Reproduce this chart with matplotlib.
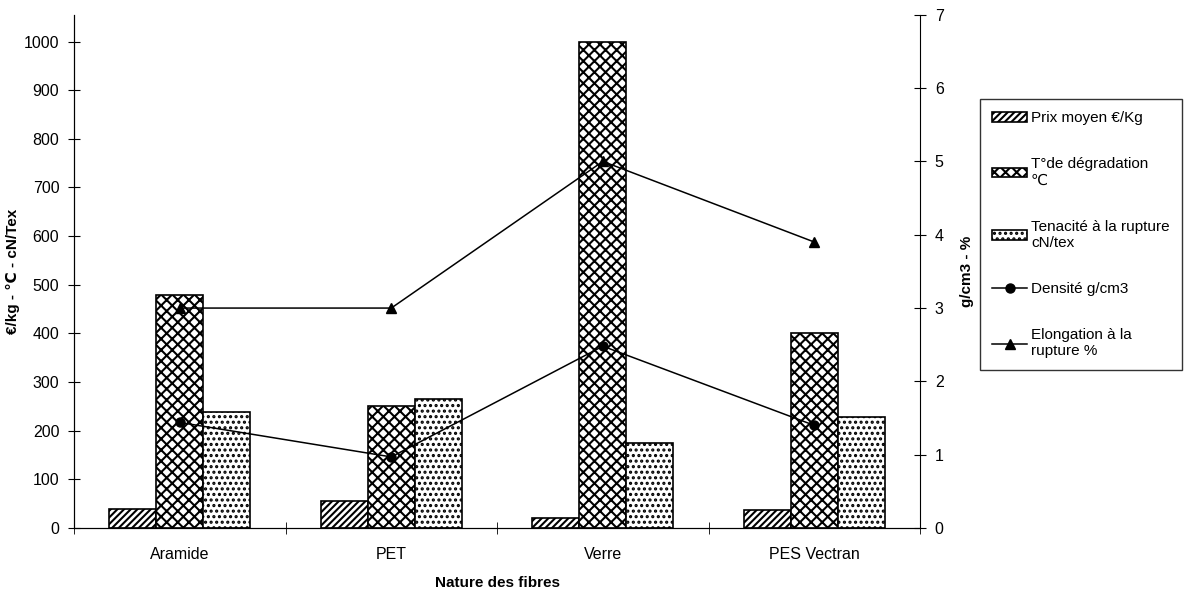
import numpy as np
import matplotlib
matplotlib.use("Agg")
import matplotlib.pyplot as plt

plt.rcParams['font.family'] = ['Liberation Sans', 'DejaVu Sans']
plt.rcParams['hatch.linewidth'] = 1.5

# data
fibres = ["Aramide", "PET", "Verre", "PES Vectran"]
prix = [39, 55, 20, 37]
temp_degr = [480, 250, 1000, 400]
tenacite = [238, 265, 175, 228]
densite = [1.44, 0.97, 2.48, 1.40]
elongation = [3.0, 3.0, 5.0, 3.9]

fig = plt.figure(figsize=(11.89, 5.90), dpi=100)
ax = fig.add_axes([0.0622, 0.105, 0.7117, 0.870])
ax2 = ax.twinx()

x = np.arange(len(fibres))
w = 0.222
ax.bar(x - w, prix, w, color='white', edgecolor='black', hatch='/////', lw=1.2,
       label='Prix moyen €/Kg')
ax.bar(x, temp_degr, w, color='white', edgecolor='black', hatch='xxx', lw=1.2,
       label='T°de dégradation\n℃')
ax.bar(x + w, tenacite, w, color='white', edgecolor='black', hatch='...', lw=1.2,
       label='Tenacité à la rupture\ncN/tex')

ax2.plot(x, densite, color='black', lw=1.1, marker='o', ms=6.5, label='Densité g/cm3')
ax2.plot(x, elongation, color='black', lw=1.1, marker='^', ms=7.5,
         label='Elongation à la\nrupture %')

ax.set_xlim(-0.5, 3.5)
ax.set_ylim(0, 1055)
ax2.set_ylim(0, 7)
ax.set_yticks(range(0, 1001, 100))
ax2.set_yticks(range(0, 8))

ax.set_xticks(x)
ax.set_xticklabels(fibres)
ax.set_xticks(np.arange(-0.5, 3.6, 1), minor=True)
ax.tick_params(axis='x', which='major', length=0, labelsize=11.5, pad=14)
ax.tick_params(axis='x', which='minor', direction='inout', length=8)
ax.tick_params(axis='y', direction='inout', length=9, labelsize=11.5, pad=6)
ax2.tick_params(axis='y', direction='inout', length=9, labelsize=11.5, pad=6)

for a in (ax, ax2):
    a.spines['top'].set_visible(False)
ax.spines['right'].set_visible(False)

ax.set_ylabel('€/kg - ℃ - cN/Tex', fontweight='bold', fontsize=11, labelpad=3)
ax2.set_ylabel('g/cm3 - %', fontweight='bold', fontsize=11, labelpad=12)
ax.set_xlabel('Nature des fibres', fontweight='bold', fontsize=11, labelpad=10)

h1, l1 = ax.get_legend_handles_labels()
h2, l2 = ax2.get_legend_handles_labels()
leg = fig.legend(h1 + h2, l1 + l2, loc='upper left', bbox_to_anchor=(0.824, 0.832),
                 borderaxespad=0, frameon=True, fancybox=False, edgecolor='black',
                 fontsize=11, labelspacing=2.1, handlelength=2.3, handleheight=0.6,
                 handletextpad=0.25, borderpad=0.8)
leg.get_frame().set_linewidth(1.0)

fig.savefig('out.png', dpi=100)
